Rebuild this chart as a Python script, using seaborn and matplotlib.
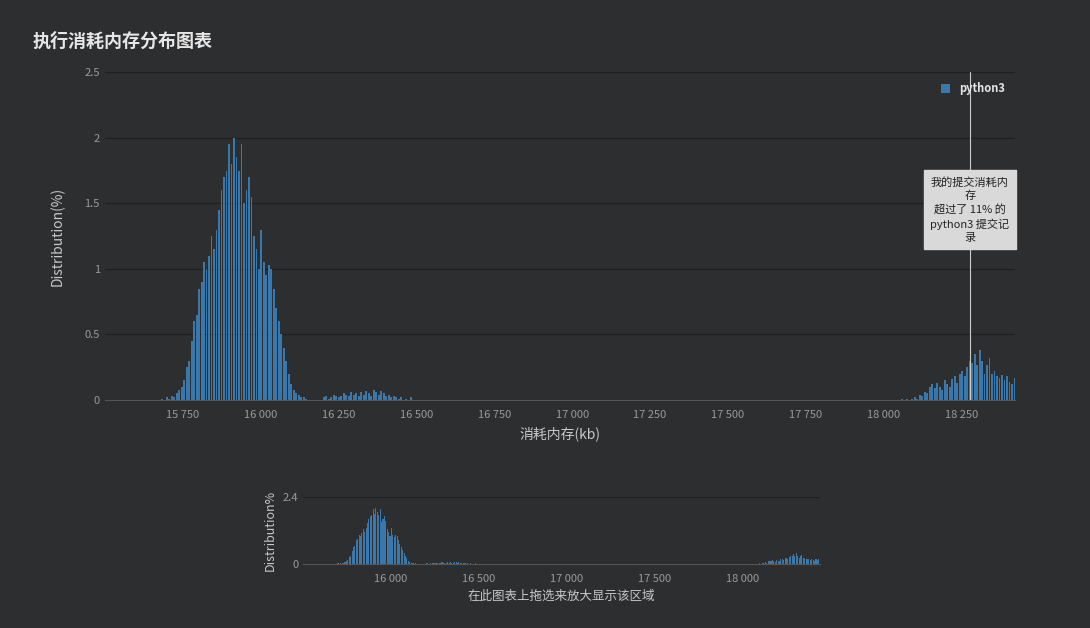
import matplotlib.pyplot as plt
import matplotlib.ticker as mticker
import numpy as np
import seaborn as sns

sns.set_style('dark')
plt.rcParams['font.family'] = ['Noto Sans CJK SC', 'DejaVu Sans']

BG = '#2d2e30'
BAR = '#3a77ab'
GRID = '#1f2022'
TXT = '#c8c8c8'
BIN = 8

# main peak, bins of 8 kb starting at 15680
peak_start = 15680
peak_vals = [0.01, 0.0, 0.02, 0.01, 0.03, 0.02, 0.05, 0.08, 0.1, 0.15, 0.25, 0.3,
             0.45, 0.6, 0.65, 0.85, 0.9, 1.05, 1.0, 1.1, 1.25, 1.15, 1.3, 1.45,
             1.6, 1.7, 1.75, 1.95, 1.8, 2.0, 1.85, 1.75, 1.95, 1.5, 1.6, 1.7,
             1.55, 1.25, 1.15, 1.0, 1.3, 1.05, 0.95, 1.03, 1.0, 0.85, 0.7, 0.6,
             0.5, 0.4, 0.3, 0.2, 0.12, 0.08, 0.05, 0.04, 0.02, 0.02, 0.01]
# small bump around 16 200 - 16 550
bump_start = 16200
bump_vals = [0.02, 0.03, 0.01, 0.02, 0.04, 0.03, 0.02, 0.03, 0.05, 0.04, 0.03, 0.06,
             0.04, 0.05, 0.03, 0.06, 0.04, 0.07, 0.05, 0.03, 0.08, 0.06, 0.04, 0.07,
             0.05, 0.03, 0.04, 0.02, 0.03, 0.02, 0.01, 0.02, 0.0, 0.01, 0.0, 0.02]
# right cluster
right_start = 18056
right_vals = [0.01, 0.0, 0.01, 0.0, 0.01, 0.02, 0.01, 0.04, 0.03, 0.06, 0.05, 0.1,
              0.12, 0.09, 0.13, 0.1, 0.08, 0.15, 0.12, 0.1, 0.16, 0.18, 0.13, 0.2,
              0.22, 0.18, 0.25, 0.3, 0.28, 0.35, 0.27, 0.38, 0.3, 0.2, 0.27, 0.32,
              0.2, 0.22, 0.18, 0.17, 0.19, 0.15, 0.18, 0.14, 0.12, 0.17, 0.13, 0.16]

segments = [(peak_start, peak_vals), (bump_start, bump_vals), (right_start, right_vals)]
xs, ys = [], []
for start, vals in segments:
    for i, v in enumerate(vals):
        xs.append(start + i * BIN)
        ys.append(v)
xs = np.array(xs)
ys = np.array(ys)

fmt = mticker.FuncFormatter(lambda v, p: f'{int(v):,}'.replace(',', ' '))

fig = plt.figure(figsize=(10.9, 6.28), dpi=100, facecolor=BG)
fig.text(0.03, 0.925, '执行消耗内存分布图表', color='#e6e6e6', fontsize=13, fontweight='bold')


def style(ax):
    ax.set_facecolor(BG)
    for s in ['top', 'right', 'left']:
        ax.spines[s].set_visible(False)
    ax.spines['bottom'].set_color('#555555')
    ax.grid(axis='y', color=GRID, linewidth=1)
    ax.grid(axis='x', visible=False)
    ax.tick_params(colors='#9a9a9a', labelsize=8, length=0)
    ax.tick_params(axis='x', length=4, color='#555555')
    ax.xaxis.set_major_formatter(fmt)


ax = fig.add_axes([0.096, 0.363, 0.835, 0.522])
style(ax)
ax.bar(xs, ys, width=BIN * 0.75, color=BAR, align='edge', linewidth=0, label='python3')
ax.set_xlim(15500, 18420)
ax.set_ylim(0, 2.5)
ax.set_yticks([0, 0.5, 1, 1.5, 2, 2.5])
ax.yaxis.set_major_formatter(mticker.FuncFormatter(lambda v, p: f'{v:g}'))
ax.set_xticks(np.arange(15750, 18300, 250))
ax.set_xlabel('消耗内存(kb)', color=TXT, fontsize=10)
ax.set_ylabel('Distribution(%)', color=TXT, fontsize=10, labelpad=14)
leg = ax.legend(loc='upper right', frameon=False, fontsize=8, handlelength=0.8,
                handleheight=0.8, bbox_to_anchor=(1.0, 1.0))
for t in leg.get_texts():
    t.set_color('#e6e6e6')
    t.set_fontweight('bold')
ax.axvline(18276, color='#cccccc', linewidth=0.8)
ax.text(18276, 1.45, '我的提交消耗内\n存\n超过了 11% 的\npython3 提交记\n录', ha='center',
        va='center', fontsize=8, color='#222222', linespacing=1.35,
        bbox=dict(boxstyle='square,pad=0.6', fc='#d9d9d9', ec='#d9d9d9'))

ax2 = fig.add_axes([0.278, 0.102, 0.474, 0.107])
style(ax2)
ax2.bar(xs, ys, width=BIN * 0.75, color=BAR, align='edge', linewidth=0)
ax2.set_xlim(15500, 18440)
ax2.set_ylim(0, 2.4)
ax2.set_yticks([0, 2.4])
ax2.yaxis.set_major_formatter(mticker.FuncFormatter(lambda v, p: f'{v:g}'))
ax2.set_xticks(np.arange(16000, 18300, 500))
ax2.set_xlabel('在此图表上拖选来放大显示该区域', color=TXT, fontsize=9)
ax2.set_ylabel('Distribution%', color=TXT, fontsize=9)

fig.savefig('out.png', dpi=100, facecolor=BG)
